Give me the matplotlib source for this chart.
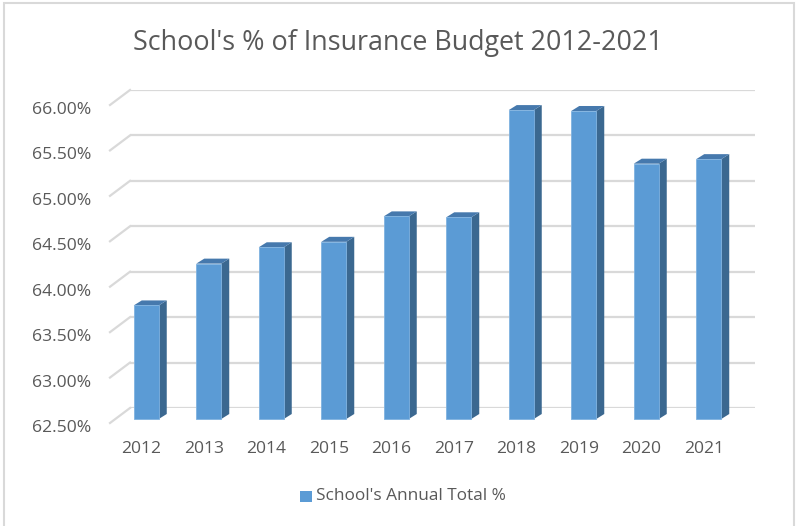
import matplotlib.pyplot as plt
import matplotlib.transforms as mtransforms
from matplotlib.patches import Rectangle, Polygon

plt.rcParams['font.family'] = ['Open Sans', 'DejaVu Sans']

# school's share of the insurance budget, per year
years = ['2012', '2013', '2014', '2015', '2016', '2017', '2018', '2019', '2020', '2021']
share = [63.75, 64.21, 64.39, 64.45, 64.73, 64.72, 65.90, 65.89, 65.31, 65.36]
ticks = [62.5, 63.0, 63.5, 64.0, 64.5, 65.0, 65.5, 66.0]
tick_labels = ['62.50%', '63.00%', '63.50%', '64.00%', '64.50%', '65.00%', '65.50%', '66.00%']

W, H = 797, 526
fig = plt.figure(figsize=(W / 100, H / 100), dpi=100)

# outer chart border
fig.patches.append(Rectangle((4 / W, -0.05), 790 / W, 1.05 - 3 / H, transform=fig.transFigure,
                             fill=False, ec='#d9d9d9', lw=1.5))

# back wall of the 3d plot area
x0, x1, ytop, ybot = 130, 755, 90, 408
ax = fig.add_axes([x0 / W, (H - ybot) / H, (x1 - x0) / W, (ybot - ytop) / H])
ax.set_xlim(-0.5, 9.5)
ax.set_ylim(62.5, 66.0)
for s in ax.spines.values():
    s.set_visible(False)

px = 10.0 / (x1 - x0)          # one pixel in x data units
py = 3.5 / (ybot - ytop)         # one pixel in y data units

grid_c = '#d9d9d9'
for v in ticks:
    ax.plot([-0.5, 9.5], [v, v], color=grid_c, lw=1.6, zorder=0)
    # slanted floor/wall edge on the left
    ax.plot([-0.5 - 20 * px, -0.5], [v - 15 * py, v], color=grid_c, lw=1.6,
            zorder=0, clip_on=False)

# 3d columns
front_c, side_c, top_c = '#5b9bd5', '#3b6890', '#4679ad'
bw = 25 * px
fx = -15 * px     # front face shifted toward viewer
fy = -11 * py
dx, dy = 8 * px, 5 * py
for i, v in enumerate(share):
    xl = i + fx - bw / 2
    xr = xl + bw
    yb = 62.5 + fy
    yt = v + fy
    ax.add_patch(Polygon([(xr, yb), (xr, yt), (xr + dx, yt + dy), (xr + dx, yb + dy)],
                         closed=True, fc=side_c, ec='none', clip_on=False, zorder=3))
    ax.add_patch(Polygon([(xl, yt), (xr, yt), (xr + dx, yt + dy), (xl + dx, yt + dy)],
                         closed=True, fc=top_c, ec='none', clip_on=False, zorder=3))
    ax.add_patch(Rectangle((xl, yb), bw, yt - yb, fc=front_c, ec='#7fb2e0', lw=0.6,
                           clip_on=False, zorder=4))

text_c = '#595959'
ax.set_yticks(ticks)
ax.set_yticklabels(tick_labels)
ax.set_xticks(range(len(years)))
ax.set_xticklabels(years)
ax.tick_params(axis='both', length=0, colors=text_c, labelsize=12.6)
ax.tick_params(axis='y', pad=28)
ax.tick_params(axis='x', pad=24)
for lab in ax.get_yticklabels():
    lab.set_transform(lab.get_transform() + mtransforms.ScaledTranslation(0, -0.18, fig.dpi_scale_trans))
for lab in ax.get_xticklabels():
    lab.set_transform(lab.get_transform() + mtransforms.ScaledTranslation(-0.2, 0, fig.dpi_scale_trans))

fig.text(398 / W, 1 - 43 / H, "School's % of Insurance Budget 2012-2021", ha='center', va='center',
         fontsize=19.4, color=text_c)

# legend
fig.patches.append(Rectangle((300 / W, 1 - 502 / H), 12 / W, 11 / H, transform=fig.transFigure,
                             fc=front_c, ec='none'))
fig.text(316 / W, 1 - 496 / H, "School's Annual Total %", ha='left', va='center',
         fontsize=12.4, color=text_c)

fig.savefig('out.png', dpi=100)
